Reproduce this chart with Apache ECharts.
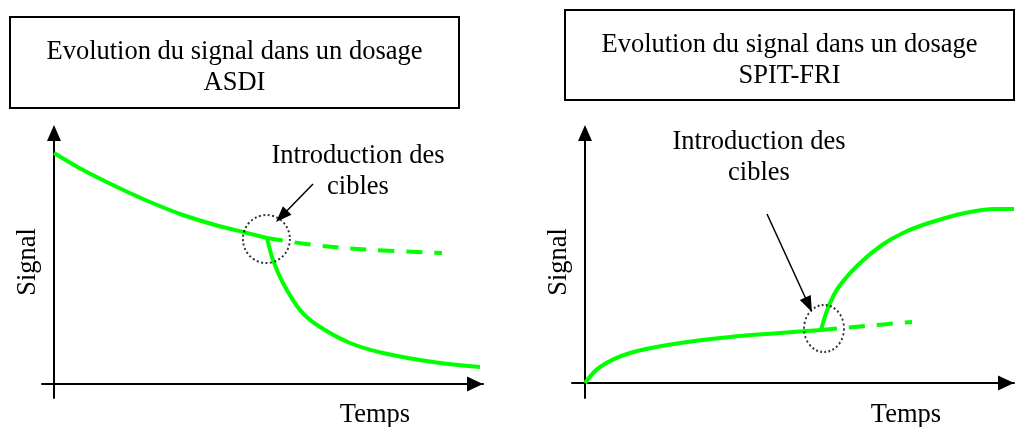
<!DOCTYPE html>
<html>
<head>
<meta charset="utf-8">
<script src="https://cdn.jsdelivr.net/npm/echarts@6/dist/echarts.min.js"></script>
<style>
html, body { margin: 0; padding: 0; background: #fff; }
#chart { width: 1018px; height: 427px; }
</style>
</head>
<body>
<div id="chart"></div>
<script>
// textes
const titres = ['Evolution du signal dans un dosage\nASDI', 'Evolution du signal dans un dosage\nSPIT-FRI']
const annotation = 'Introduction des\ncibles'
const nomY = 'Signal'
const nomX = 'Temps'

// ASDI : [temps, signal]
const asdiAvant = [[0, 92.4], [7.25, 85.6], [15.75, 78.8], [24, 72.8], [32.25, 67.6], [40.75, 63.4], [47.75, 60.6], [53.25, 58.4]]
const asdiSansCible = [[53.25, 58.4], [65, 55.6], [80, 53.6], [97, 52.4]]
const asdiAvecCible = [[53.25, 58.4], [54.75, 49.6], [57.25, 40.4], [61.5, 29.6], [65.75, 23.6], [74, 16.4], [82.25, 12.4], [94.75, 8.8], [106.5, 6.8]]
const asdiCercle = [[53.1, 58]]
const asdiFleche = [[64.75, 80], [56.9, 67.1]]

// SPIT-FRI : [temps, signal]
const spitAvant = [[0, 0], [3.75, 6.4], [11.25, 12], [23.75, 16], [36.25, 18.4], [48.75, 20], [59, 21.2]]
const spitSansCible = [[59, 21.2], [70, 22.8], [81.75, 24.4]]
const spitAvecCible = [[59, 21.2], [60.75, 30], [63.25, 38], [68.25, 47.2], [74.25, 55.2], [80, 60.4], [86.75, 64.4], [95, 68], [102.5, 69.6], [107.25, 69.6]]
const spitCercle = [[59.75, 21.8]]
const spitFleche = [[45.5, 67.6], [55.9, 31.3]]

const vert = '#00ff00'
const police = '"Liberation Serif", "Times New Roman", serif'

let chart = echarts.init(document.getElementById('chart'))

function axeX(i, min) {
    return {
        type: 'value', gridIndex: i, min: min, max: 107.25,
        axisLine: {
            onZero: true, symbol: ['none', 'triangle'], symbolSize: [15, 16], symbolOffset: [0, -8],
            lineStyle: { color: '#000', width: 2 }
        },
        axisTick: { show: false },
        axisLabel: { show: false },
        splitLine: { show: false }
    }
}
function axeY(i, min, max) {
    return {
        type: 'value', gridIndex: i, min: min, max: max,
        axisLine: { onZero: true, symbol: ['none', 'triangle'], symbolSize: [14, 16], lineStyle: { color: '#000', width: 2 } },
        axisTick: { show: false },
        axisLabel: { show: false },
        splitLine: { show: false }
    }
}
function courbe(i, data, tirets) {
    return {
        type: 'line', xAxisIndex: i, yAxisIndex: i, data: data,
        smooth: 0.35, symbol: 'none', clip: false, silent: true,
        lineStyle: { color: vert, width: 4, type: tirets ? [16, 12] : 'solid', cap: 'butt' }
    }
}
function cercle(i, data, taille, fleche) {
    return {
        type: 'scatter', xAxisIndex: i, yAxisIndex: i, data: data,
        symbol: 'circle', symbolSize: taille, clip: false, silent: true, z: 5,
        itemStyle: { color: 'rgba(0,0,0,0)', borderColor: '#000', borderWidth: 2, borderType: [2, 2.5] },
        markLine: {
            silent: true, animation: false,
            symbol: ['none', 'triangle'], symbolSize: [12, 16],
            label: { show: false },
            lineStyle: { color: '#000', width: 1.5, type: 'solid' },
            data: [[{ coord: fleche[0] }, { coord: fleche[1] }]]
        }
    }
}
function texte(x, y, t, rot) {
    return {
        type: 'text', x: x, y: y, rotation: rot || 0,
        style: { text: t, font: '26.5px ' + police, fill: '#000', align: 'center', verticalAlign: 'middle', lineHeight: 31 }
    }
}

let option = {
    animation: false,
    grid: [
        { left: 42, right: 535, top: 133, bottom: 29 },
        { left: 572, right: 4, top: 133, bottom: 29 }
    ],
    xAxis: [axeX(0, -3), axeX(1, -3.25)],
    yAxis: [axeY(0, -5.6, 100.4), axeY(1, -6, 100)],
    series: [
        courbe(0, asdiAvant, false),
        courbe(0, asdiSansCible, true),
        courbe(0, asdiAvecCible, false),
        cercle(0, asdiCercle, [47, 48], asdiFleche),
        courbe(1, spitAvant, false),
        courbe(1, spitSansCible, true),
        courbe(1, spitAvecCible, false),
        cercle(1, spitCercle, [40, 47], spitFleche)
    ],
    graphic: [
        { type: 'rect', shape: { x: 10, y: 17, width: 449, height: 91 }, style: { fill: '#fff', stroke: '#000', lineWidth: 2 } },
        { type: 'rect', shape: { x: 565, y: 10, width: 449, height: 90 }, style: { fill: '#fff', stroke: '#000', lineWidth: 2 } },
        texte(234.5, 67.5, titres[0]),
        texte(789.5, 60.5, titres[1]),
        texte(358, 172, annotation),
        texte(759, 157.5, annotation),
        texte(28, 262, nomY, Math.PI / 2),
        texte(559, 262, nomY, Math.PI / 2),
        texte(375, 415, nomX),
        texte(906, 415, nomX)
    ]
}
chart.setOption(option)
</script>
</body>
</html>
